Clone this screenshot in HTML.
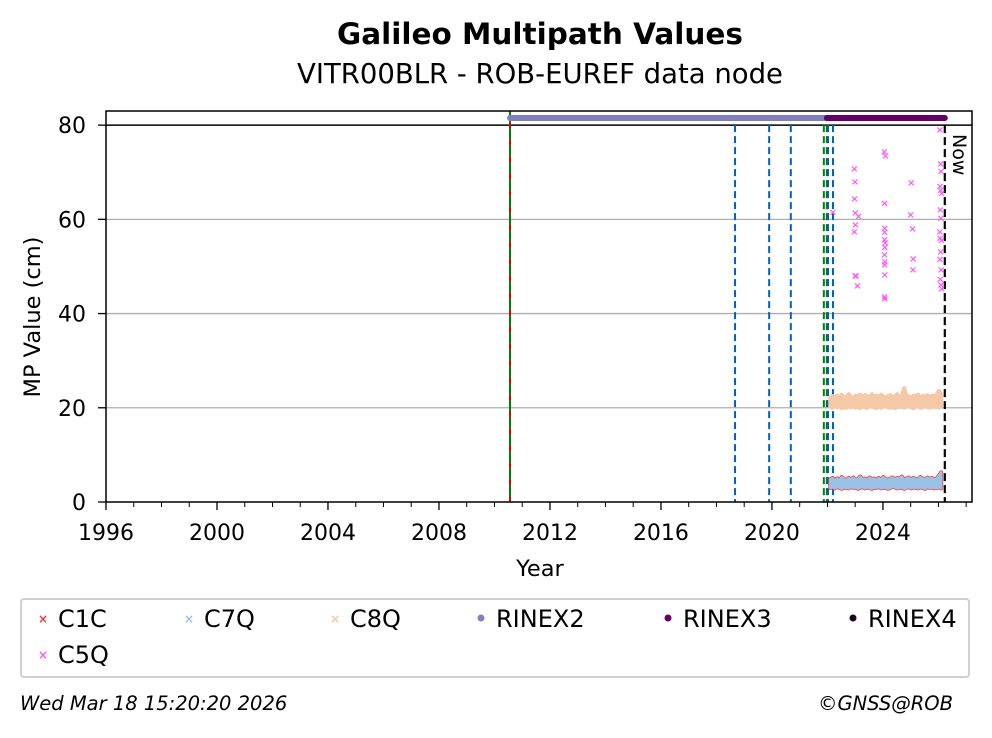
<!DOCTYPE html>
<html><head><meta charset="utf-8">
<style>
html,body{margin:0;padding:0;background:#fff;}
body{width:992px;height:734px;overflow:hidden;font-family:"DejaVu Sans","Liberation Sans",sans-serif;}
svg text{font-family:"DejaVu Sans","Liberation Sans",sans-serif;}
</style></head>
<body>
<svg id="chart" width="992" height="734" viewBox="0 0 992 734">
<text x="540" y="44" text-anchor="middle" font-size="29.5" font-weight="bold">Galileo Multipath Values</text>
<text x="540" y="83" text-anchor="middle" font-size="27.5">VITR00BLR - ROB-EUREF data node</text>
<g id="grid"></g>
<g id="marks"></g>
<g id="axes"></g>
<text transform="translate(40,317) rotate(-90)" text-anchor="middle" font-size="22.5">MP Value (cm)</text>
<text x="540" y="576" text-anchor="middle" font-size="22.5">Year</text>
<text transform="translate(953,134) rotate(90)" font-size="19">Now</text>
<g>
<rect x="21" y="599" width="948" height="78" rx="3" fill="#fff" stroke="#d0d0d0" stroke-width="2"/>
<g><text x="43" y="623" text-anchor="middle" font-size="12" fill="#ff3333" font-weight="bold">×</text><text x="58" y="627" font-size="24">C1C</text></g>
<g><text x="189" y="623" text-anchor="middle" font-size="12" fill="#99c2e6" font-weight="bold">×</text><text x="204" y="627" font-size="24">C7Q</text></g>
<g><text x="335" y="623" text-anchor="middle" font-size="12" fill="#f5c8a8" font-weight="bold">×</text><text x="350" y="627" font-size="24">C8Q</text></g>
<g><circle cx="481" cy="618" r="3.5" fill="#8080c0"/><text x="496" y="627" font-size="24">RINEX2</text></g>
<g><circle cx="668" cy="618" r="3.5" fill="#660066"/><text x="683" y="627" font-size="24">RINEX3</text></g>
<g><circle cx="853" cy="618" r="3.5" fill="#1a0022"/><text x="868" y="627" font-size="24">RINEX4</text></g>
<g><text x="43" y="659" text-anchor="middle" font-size="12" fill="#ff55ff" font-weight="bold">×</text><text x="58" y="663" font-size="24">C5Q</text></g>
</g>
<text x="20" y="710" font-size="19.5" font-style="italic">Wed Mar 18 15:20:20 2026</text>
<text x="953" y="710" text-anchor="end" font-size="19.5" font-style="italic">©GNSS@ROB</text>
</svg>
<script>
const xTicks=[1996,2000,2004,2008,2012,2016,2020,2024];
const yTicks=[0,20,40,60,80];
const blueLines=[2018.67,2019.9,2020.68,2022.02,2022.2];
const greenLines=[2021.87];
const redGreenLine=2010.56;
const nowYear=2026.23;
const rinex2=[2010.56,2021.98];
const rinex3=[2021.98,2026.23];
const bandStart=2022.1;
const bandStep=1/12;
const c8qHigh=[22.3,22.5,21.9,22.6,22.2,22.8,22.1,22.4,22.9,22.3,22.0,22.6,22.4,22.8,22.2,22.7,22.5,22.1,22.9,22.3,22.6,22.2,22.8,22.4,22.0,22.5,22.7,22.3,22.4,22.9,22.2,22.6,24.2,22.3,22.5,22.1,22.6,22.4,22.8,22.2,22.5,22.3,22.7,22.1,22.6,22.4,22.8,23.6,22.9];
const c8qLow=[20.2,20.0,20.4,20.1,20.3,19.9,20.2,20.0,20.4,20.1,20.3,20.0,20.2,19.9,20.3,20.1,20.0,20.4,20.2,20.1,19.9,20.3,20.0,20.2,20.4,20.1,20.0,20.3,19.9,20.2,20.1,20.3,20.0,20.2,20.4,20.1,19.9,20.2,20.3,20.0,20.1,20.4,20.2,20.0,20.3,20.1,20.2,20.0,20.3];
const c7qHigh=[4.8,5.1,4.6,5.0,4.7,5.3,4.9,4.6,5.1,4.8,5.2,4.7,4.9,5.4,4.8,5.0,4.6,5.2,4.9,5.0,4.7,5.1,4.8,5.3,4.9,4.7,5.0,5.2,4.8,5.1,4.9,5.4,4.7,5.0,5.2,4.8,5.1,4.9,4.7,5.3,5.0,4.8,5.2,4.9,5.1,4.8,5.0,5.6,6.3];
const c7qLow=[3.0,3.1,2.9,3.2,3.0,2.8,3.1,3.0,2.9,3.2,3.0,3.1,2.8,3.0,3.2,2.9,3.1,3.0,2.8,3.1,3.0,3.2,2.9,3.0,3.1,2.8,3.0,3.2,3.1,2.9,3.0,3.1,2.8,3.0,3.2,2.9,3.1,3.0,2.9,3.1,3.0,2.8,3.2,3.0,3.1,2.9,3.0,3.1,2.9];
const c5qTimes=[2022.2,2022.97,2022.99,2022.98,2023.0,2023.01,2022.97,2023.0,2023.03,2023.08,2023.12,2024.05,2024.09,2024.06,2024.07,2024.06,2024.08,2024.06,2024.07,2024.06,2024.07,2024.06,2024.07,2024.06,2024.07,2025.0,2025.02,2025.07,2025.09,2025.08,2026.05,2026.08,2026.1,2026.06,2026.12,2026.07,2026.09,2026.05,2026.11,2026.08,2026.06,2026.1,2026.07,2026.09,2026.12,2026.08,2026.06];
const c5qValues=[61.5,70.7,67.9,64.3,61.3,58.8,57.3,48.0,48.0,45.8,60.6,74.3,73.4,63.4,58.1,55.6,55.0,52.4,50.9,50.3,48.2,43.5,43.1,57.2,54.0,60.9,67.7,57.9,51.6,49.2,79.0,71.8,70.2,67.0,65.5,62.0,60.2,57.3,55.5,53.1,51.5,49.3,47.2,46.1,45.2,66.1,55.9];

const NS='http://www.w3.org/2000/svg';
const L=106,R=972,T=111,B=502;
const X0=1996,X1=2027.21,Y0=0,Y1=83;
const xs=v=>L+(v-X0)/(X1-X0)*(R-L);
const ys=v=>B-(v-Y0)/(Y1-Y0)*(B-T);
function el(tag,attrs,parent){const e=document.createElementNS(NS,tag);for(const k in attrs)e.setAttribute(k,attrs[k]);parent.appendChild(e);return e;}
const grid=document.getElementById('grid'),marks=document.getElementById('marks'),axes=document.getElementById('axes');
yTicks.forEach(v=>{
 if(v>0&&v<80){const g=el('line',{x1:L,x2:R,y1:ys(v),y2:ys(v),stroke:'#b0b0b0','stroke-width':1.3},grid);
 
 }
});
const l80=el('line',{x1:L,x2:R,y1:ys(80),y2:ys(80),stroke:'#000','stroke-width':1.5},grid);


const rg=el('line',{x1:xs(redGreenLine),x2:xs(redGreenLine),y1:T,y2:B,stroke:'#e00000','stroke-width':2},marks);


const rg2=el('line',{x1:xs(redGreenLine),x2:xs(redGreenLine),y1:T,y2:B,stroke:'#008000','stroke-width':2,'stroke-dasharray':'12 5'},marks);


greenLines.forEach(v=>{const e=el('line',{x1:xs(v),x2:xs(v),y1:ys(80),y2:B,stroke:'#008000','stroke-width':2,'stroke-dasharray':'7 4'},marks);
 
 
 const f=el('line',{x1:xs(v)+3,x2:xs(v)+3,y1:ys(80),y2:B,stroke:'#008000','stroke-width':2,'stroke-dasharray':'7 4'},marks);
 
 });
blueLines.forEach(v=>{const e=el('line',{x1:xs(v),x2:xs(v),y1:ys(80),y2:B,stroke:'#0060c0','stroke-width':2,'stroke-dasharray':'7 4'},marks);
 
 });
const nw=el('line',{x1:xs(nowYear),x2:xs(nowYear),y1:ys(80),y2:B,stroke:'#000','stroke-width':2.2,'stroke-dasharray':'8 4'},marks);


function band(hi,lo,color,name,sw){
 let pts=[];hi.forEach((v,i)=>pts.push(xs(bandStart+i*bandStep)+','+ys(v)));
 for(let i=lo.length-1;i>=0;i--)pts.push(xs(bandStart+i*bandStep)+','+ys(lo[i]));
 const p=el('polygon',{points:pts.join(' '),fill:color,stroke:color,'stroke-width':sw,'stroke-linejoin':'round'},marks);
 
 
}
band(c7qHigh,c7qLow,'#ff3333','c1c-band',4);
band(c7qHigh,c7qLow,'#99c2e6','c7q-band',2.5);
band(c8qHigh,c8qLow,'#f5c8a8','c8q-band',4);
c5qTimes.forEach((t,i)=>{
 const c=el('text',{x:xs(t),y:ys(c5qValues[i])+3,'text-anchor':'middle','font-size':10,'font-weight':'bold',fill:'#ff55ff'},marks);
 c.textContent='×';
 
 });
const r2=el('line',{x1:xs(rinex2[0]),x2:xs(rinex2[1]),y1:118,y2:118,stroke:'#8080c0','stroke-width':6,'stroke-linecap':'round'},marks);


const r3=el('line',{x1:xs(rinex3[0]),x2:xs(rinex3[1]),y1:118,y2:118,stroke:'#660066','stroke-width':6,'stroke-linecap':'round'},marks);


const fr=el('rect',{x:L,y:T,width:R-L,height:B-T,fill:'none',stroke:'#000','stroke-width':1.5},axes);


yTicks.forEach(v=>{el('line',{x1:L-8,x2:L,y1:ys(v),y2:ys(v),stroke:'#000','stroke-width':1.3},axes);
 const t=el('text',{x:L-20,y:ys(v)+8,'text-anchor':'end','font-size':22},axes);t.textContent=v;
 
 });
for(let yr=1996;yr<=2027;yr++){const major=xTicks.includes(yr);
 el('line',{x1:xs(yr),x2:xs(yr),y1:B,y2:B+(major?8:5),stroke:'#000','stroke-width':major?1.3:1},axes);}
xTicks.forEach(v=>{const t=el('text',{x:xs(v),y:B+38,'text-anchor':'middle','font-size':22},axes);t.textContent=v;
 
 });
</script>
</body></html>
